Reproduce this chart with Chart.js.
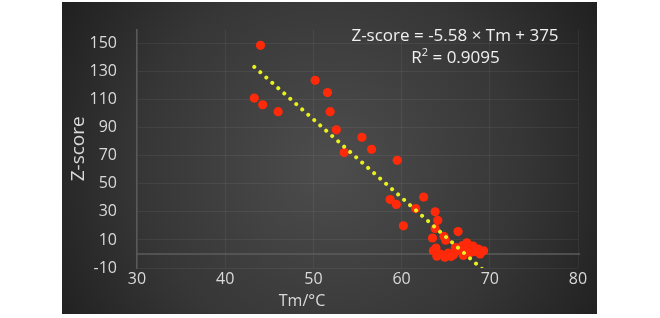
<!DOCTYPE html>
<html>
<head>
<meta charset="utf-8">
<script src="https://cdn.jsdelivr.net/npm/chart.js@4/dist/chart.umd.min.js"></script>
<style>
  html, body { margin: 0; padding: 0; background: #ffffff; }
  #wrap { width: 660px; height: 318px; position: relative; }
</style>
</head>
<body>
<div id="wrap"><canvas id="c" width="660" height="318"></canvas></div>
<script>
// ---- data ----
const tmValues = [44.0, 43.3, 44.25, 46.0, 50.2, 51.6, 51.9, 52.6, 55.5, 53.5, 56.6, 59.5,
  58.7, 59.4, 62.5, 61.6, 60.2, 63.8, 64.1, 63.8, 63.5, 64.8, 66.4, 65.0,
  63.6, 64.4, 65.3, 65.9, 66.6, 67.4, 68.1, 68.7, 69.3, 68.9, 67.0, 67.8, 66.1, 67.4, 64.9, 64.0,
  65.6, 66.9, 68.4, 63.9];
const zScores = [148.8, 111.2, 106.4, 101.5, 123.8, 115.1, 101.5, 88.5, 83.2, 72.3, 74.6, 66.8,
  38.8, 35.3, 40.6, 32.4, 20.1, 30.1, 24.0, 18.2, 11.4, 12.6, 16.0, 9.8,
  2.3, 0.0, 0.7, -0.6, 2.3, 4.6, 5.7, 3.5, 2.3, 0.0, -1.1, 1.1, 4.6, 8.0, -2.3, -1.6,
  -1.8, 5.9, 1.8, 4.2];
const trendTm = [43.3, 69.3];
const trendZ = [133.4, -11.7];
const xTicks = [30, 40, 50, 60, 70, 80];
const yTicks = [-10, 10, 30, 50, 70, 90, 110, 130, 150];
const equationText = "Z-score = -5.58 \u00D7 Tm + 375";
const r2Label = "R";
const r2Value = " = 0.9095";
const xTitle = "Tm/\u00B0C";
const yTitle = "Z-score";

const FONT = "'Open Sans', 'Liberation Sans', sans-serif";

const bgPlugin = {
  id: 'bg',
  beforeDraw(chart) {
    const ctx = chart.ctx;
    ctx.save();
    ctx.fillStyle = '#ffffff';
    ctx.fillRect(0, 0, chart.width, chart.height);
    const g = ctx.createRadialGradient(330, 165, 10, 330, 165, 340);
    g.addColorStop(0, '#4c4c4c');
    g.addColorStop(0.55, '#363636');
    g.addColorStop(1, '#1b1b1b');
    ctx.fillStyle = g;
    ctx.fillRect(62, 2, 535, 312);
    ctx.restore();
  },
  beforeDatasetsDraw(chart) {
    const ctx = chart.ctx;
    const y0 = chart.scales.y.getPixelForValue(0);
    const a = chart.chartArea;
    ctx.save();
    ctx.strokeStyle = '#5c5c5c';
    ctx.lineWidth = 1.5;
    ctx.beginPath();
    ctx.moveTo(a.left, y0);
    ctx.lineTo(a.right + 2, y0);
    ctx.stroke();
    ctx.restore();
  },
  afterDraw(chart) {
    const ctx = chart.ctx;
    ctx.save();
    ctx.fillStyle = '#f0f0f0';
    ctx.textAlign = 'center';
    ctx.textBaseline = 'middle';
    ctx.font = '17px ' + FONT;
    ctx.fillText(equationText, 455, 36);
    // R² line
    const w1 = ctx.measureText(r2Label).width;
    ctx.font = '11px ' + FONT;
    const w2 = ctx.measureText('2').width;
    ctx.font = '17px ' + FONT;
    const w3 = ctx.measureText(r2Value).width;
    let x = 455.5 - (w1 + w2 + w3) / 2;
    ctx.textAlign = 'left';
    ctx.fillText(r2Label, x, 58);
    ctx.font = '11px ' + FONT;
    ctx.fillText('2', x + w1, 53);
    ctx.font = '17px ' + FONT;
    ctx.fillText(r2Value, x + w1 + w2, 58);
    // x title
    ctx.textAlign = 'center';
    ctx.fillStyle = '#d9d9d9';
    ctx.font = '16px ' + FONT;
    ctx.fillText(xTitle, 302, 301);
    ctx.restore();
  }
};

new Chart(document.getElementById('c'), {
  type: 'scatter',
  data: {
    datasets: [
      {
        type: 'line',
        label: 'trend',
        data: trendTm.map((t, i) => ({ x: t, y: trendZ[i] })),
        borderColor: '#e8f020',
        borderWidth: 4,
        borderDash: [0.01, 8],
        borderCapStyle: 'round',
        pointRadius: 0,
        fill: false,
        order: 0
      },
      {
        label: 'data',
        data: tmValues.map((t, i) => ({ x: t, y: zScores[i] })),
        backgroundColor: '#ff2a0a',
        borderColor: '#ff3a1a',
        borderWidth: 0,
        pointRadius: 4.6,
        order: 1
      }
    ]
  },
  options: {
    responsive: false,
    animation: false,
    devicePixelRatio: 1,
    layout: { padding: { left: 62, right: 82, top: 19, bottom: 0 } },
    plugins: { legend: { display: false }, tooltip: { enabled: false } },
    scales: {
      x: {
        type: 'linear',
        min: 30, max: 80,
        afterBuildTicks(scale) { scale.ticks = xTicks.map(v => ({ value: v })); },
        afterFit(scale) { scale.height = 50; },
        ticks: { color: '#d9d9d9', font: { family: FONT, size: 16 }, padding: 2 },
        grid: { color: 'rgba(255,255,255,0.06)', drawTicks: false },
        border: { display: false }
      },
      y: {
        type: 'linear',
        min: -10, max: 160,
        afterBuildTicks(scale) { scale.ticks = yTicks.map(v => ({ value: v })); },
        afterFit(scale) { scale.width = 75; },
        ticks: { color: '#d9d9d9', font: { family: FONT, size: 16 }, padding: 20 },
        grid: { color: 'rgba(255,255,255,0.06)', drawTicks: false },
        border: { display: true, color: '#595959', width: 1.5 },
        title: { display: true, text: yTitle, color: '#d9d9d9', font: { family: FONT, size: 19 }, padding: { top: 5, bottom: 0 } }
      }
    }
  },
  plugins: [bgPlugin]
});
</script>
</body>
</html>
